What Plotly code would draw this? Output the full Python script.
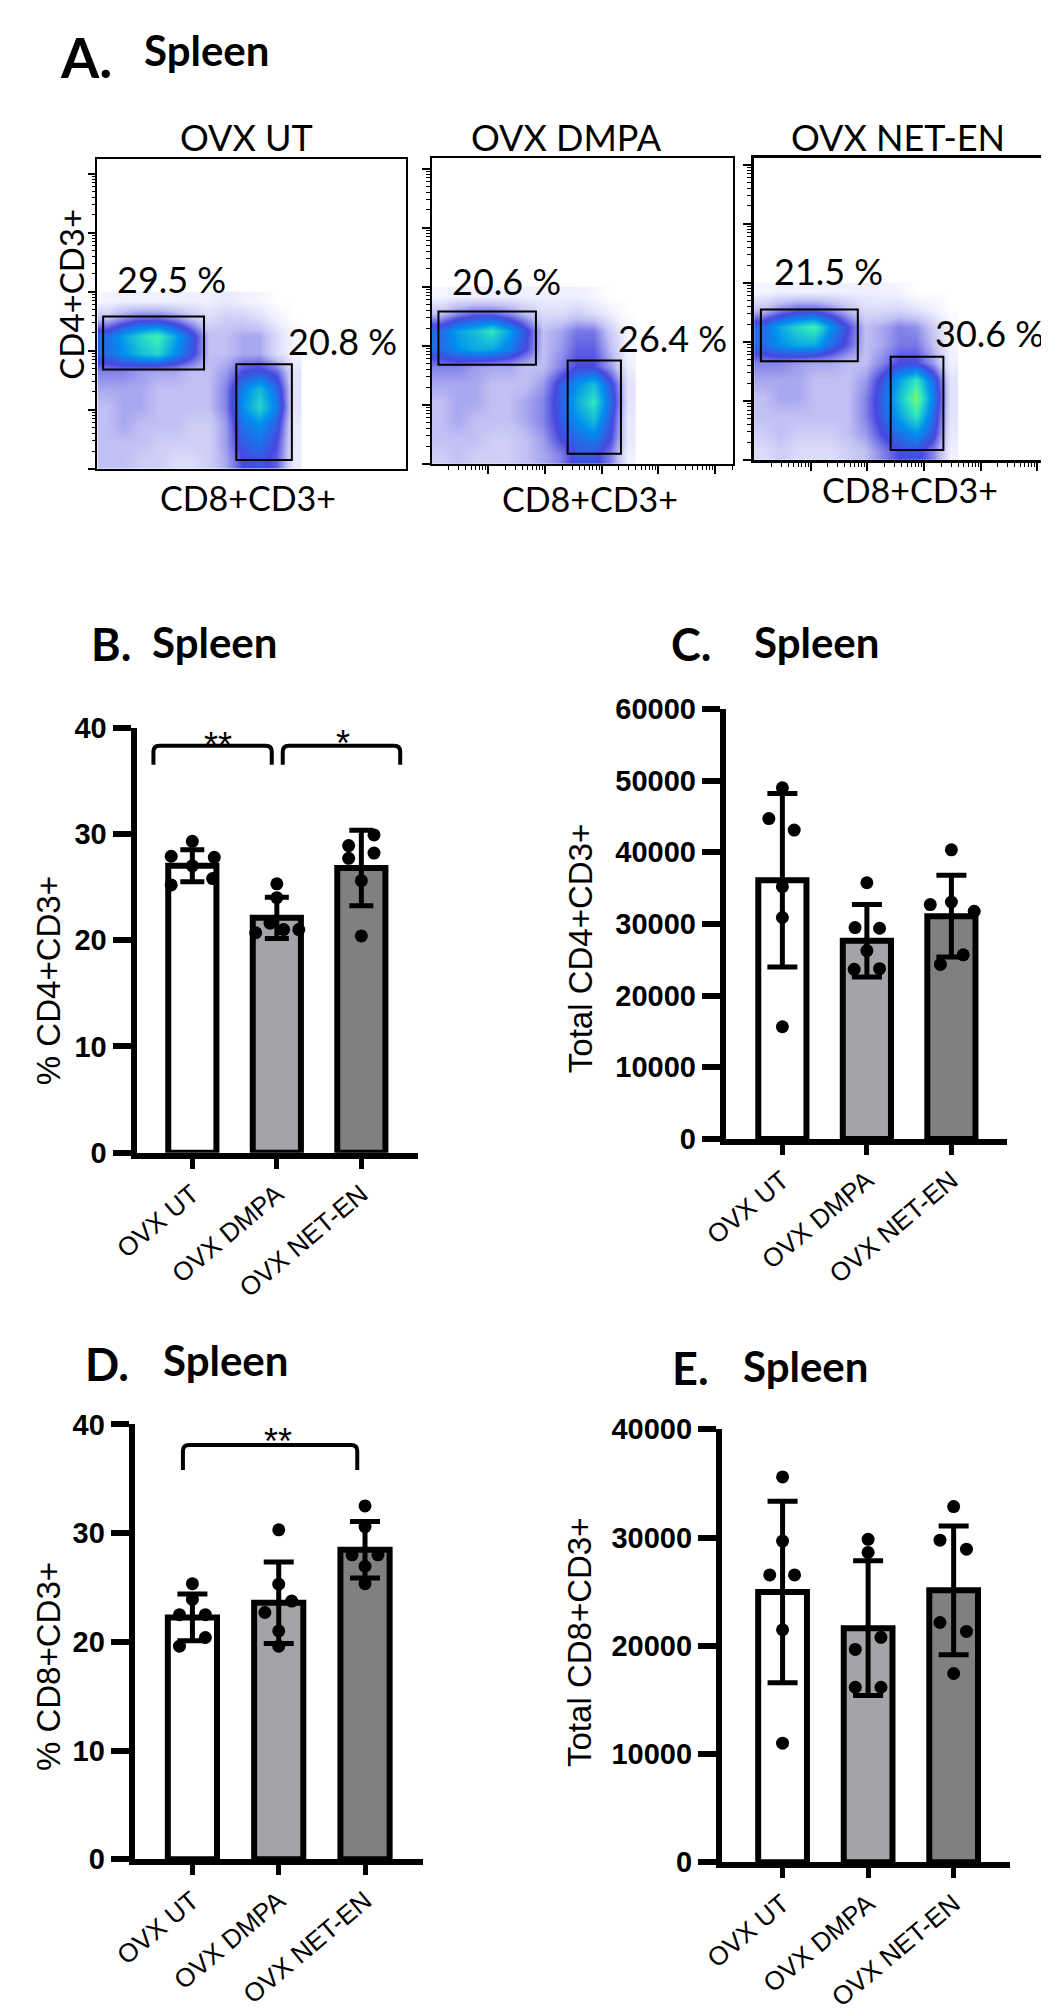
import numpy as np
import plotly.graph_objects as go

W, H = 1049, 2011

groups = ["OVX UT", "OVX DMPA", "OVX NET-EN"]
bar_fill = ["#ffffff", "#a3a3a8", "#808080"]

# B. % CD4+CD3+ (mean, SD, single mice, horizontal jitter of dots)
b_mean = [27.0, 22.1, 26.8]
b_sd = [1.5, 1.95, 3.55]
b_pts = [[27.9, 29.3, 27.8, 27.0, 25.2, 25.8],
         [25.3, 24.0, 21.6, 20.7, 21.0, 21.0],
         [29.9, 28.9, 28.2, 27.7, 25.6, 20.4]]
b_jit = [[-0.25, 0, 0.26, 0, -0.25, 0.24],
         [0, 0, -0.08, -0.25, 0.08, 0.26],
         [0.15, -0.15, 0.15, -0.15, 0, 0]]

# C. Total CD4+CD3+
c_mean = [36100, 27650, 31090]
c_sd = [12100, 5050, 5700]
c_pts = [[49000, 44700, 43100, 35200, 30900, 15660],
         [35750, 29500, 29400, 26280, 23670, 23760],
         [40340, 32700, 33060, 31770, 25690, 24350]]
c_jit = [[0, -0.16, 0.14, 0, 0, 0],
         [0, -0.14, 0.15, 0, -0.15, 0.15],
         [0, -0.25, 0, 0.27, 0.14, -0.13]]

# D. % CD8+CD3+
d_mean = [22.24, 23.6, 28.46]
d_sd = [2.15, 3.75, 2.6]
d_pts = [[25.35, 22.5, 22.5, 23.9, 20.4, 19.6],
         [30.3, 25.3, 23.75, 22.7, 21.0, 19.6],
         [32.5, 30.6, 28.0, 28.0, 26.95, 25.35]]
d_jit = [[0, -0.15, 0.15, 0, 0.15, -0.15],
         [0, 0, 0.15, -0.16, 0, 0],
         [0, 0, -0.15, 0.15, 0, 0]]

# E. Total CD8+CD3+
e_mean = [24970, 21630, 25120]
e_sd = [8380, 6220, 5950]
e_pts = [[35600, 29670, 26550, 26550, 21480, 11000],
         [29830, 28620, 20780, 19660, 16170, 16170],
         [32860, 29760, 28920, 22150, 21330, 17440]]
e_jit = [[0, 0, -0.15, 0.14, 0, 0],
         [0, 0, 0.15, -0.15, -0.15, 0.15],
         [0, -0.16, 0.15, -0.16, 0.15, 0]]

# significance brackets: (x from, x to, leg bottom, top, label, label x, label lift)
b_sig = [(-0.46, 0.94, 36.5, 38.3, "**", 0.30, 0.0),
         (1.07, 2.46, 36.5, 38.3, "*", 1.78, 0.2)]
d_sig = [(-0.11, 1.91, 35.8, 38.1, "**", 0.99, 0.36)]

# A. flow density, 0.3-decade bins, rows bottom -> top, CD8 along x, CD4 along y
ut_density = [
    [1.0, 1.0, 0.8, 0.8, 0.6, 0.6, 0.8, 1.2, 2.0, 2.2, 1.8, 0.4],
    [1.0, 1.0, 1.0, 0.8, 0.8, 0.8, 0.8, 1.3, 2.3, 2.6, 2.0, 0.4],
    [1.0, 1.2, 1.0, 1.0, 1.0, 0.8, 0.8, 1.3, 2.6, 3.0, 2.3, 0.4],
    [1.0, 1.2, 1.2, 1.0, 1.0, 1.0, 1.0, 1.5, 3.0, 3.8, 2.8, 0.5],
    [1.2, 1.2, 1.2, 1.0, 1.0, 1.0, 1.0, 1.5, 2.8, 3.5, 2.5, 0.5],
    [1.5, 1.5, 1.3, 1.2, 1.2, 1.0, 1.0, 1.3, 2.0, 2.2, 1.8, 0.5],
    [2.5, 3.0, 3.5, 3.8, 3.0, 2.2, 1.0, 1.0, 1.2, 1.2, 0.6, 0.2],
    [2.5, 3.2, 3.8, 4.2, 3.3, 2.3, 1.0, 1.0, 1.2, 1.2, 0.6, 0.2],
    [1.0, 1.5, 1.8, 1.8, 1.5, 1.0, 0.6, 0.8, 0.8, 0.6, 0.3, 0.0],
    [0.2, 0.3, 0.3, 0.3, 0.3, 0.3, 0.3, 0.4, 0.3, 0.2, 0.0, 0.0],
]
dmpa_density = [
    [0.8, 1.0, 0.8, 0.8, 0.8, 1.0, 1.2, 1.5, 2.2, 2.2, 1.5, 0.3],
    [1.0, 1.0, 1.0, 0.8, 0.8, 1.0, 1.3, 2.0, 2.5, 2.8, 2.0, 0.4],
    [1.0, 1.2, 1.0, 1.0, 1.0, 1.2, 1.5, 2.2, 3.0, 3.5, 2.2, 0.4],
    [1.0, 1.2, 1.2, 1.0, 1.0, 1.2, 1.5, 2.3, 3.3, 4.0, 2.5, 0.5],
    [1.2, 1.2, 1.2, 1.0, 1.0, 1.0, 1.3, 2.2, 3.0, 3.5, 2.2, 0.5],
    [1.5, 1.5, 1.3, 1.2, 1.2, 1.0, 1.0, 1.5, 2.0, 2.0, 1.3, 0.3],
    [2.5, 3.0, 3.3, 3.3, 2.8, 2.0, 1.0, 1.3, 1.8, 1.8, 1.0, 0.2],
    [2.5, 3.2, 3.5, 4.0, 3.2, 2.2, 1.0, 1.2, 1.6, 1.6, 0.8, 0.2],
    [1.0, 1.5, 1.8, 1.8, 1.5, 1.0, 0.6, 0.6, 0.8, 0.6, 0.3, 0.0],
    [0.2, 0.3, 0.3, 0.3, 0.3, 0.3, 0.3, 0.3, 0.3, 0.2, 0.0, 0.0],
]
neten_density = [
    [0.6, 0.8, 0.6, 0.6, 0.6, 0.8, 1.0, 1.5, 2.0, 2.2, 1.5, 0.3],
    [0.8, 1.0, 0.8, 0.8, 0.8, 1.0, 1.3, 2.0, 2.6, 3.0, 2.2, 0.4],
    [1.0, 1.0, 1.0, 1.0, 1.0, 1.0, 1.5, 2.3, 3.2, 4.0, 2.5, 0.5],
    [1.0, 1.2, 1.2, 1.0, 1.0, 1.0, 1.5, 2.4, 3.5, 4.6, 2.8, 0.5],
    [1.2, 1.2, 1.2, 1.0, 1.0, 1.0, 1.3, 2.2, 3.2, 4.0, 2.5, 0.5],
    [1.5, 1.5, 1.3, 1.2, 1.2, 1.0, 1.0, 1.5, 2.0, 2.0, 1.3, 0.3],
    [2.5, 3.0, 3.3, 3.3, 2.5, 1.8, 1.0, 1.2, 1.6, 1.6, 1.0, 0.2],
    [2.5, 3.3, 3.8, 4.2, 3.0, 2.0, 1.0, 1.2, 1.5, 1.4, 0.8, 0.2],
    [1.0, 1.5, 1.8, 1.8, 1.5, 1.0, 0.6, 0.6, 0.7, 0.5, 0.3, 0.0],
    [0.2, 0.3, 0.3, 0.3, 0.3, 0.3, 0.3, 0.3, 0.2, 0.0, 0.0, 0.0],
]
bin_size = 0.3
cd4_gates = [[0.10, 1.88, 1.68, 2.58], [0.12, 1.84, 1.68, 2.58], [0.12, 1.83, 1.67, 2.55]]
cd8_gates = [[2.45, 3.43, 0.15, 1.77], [2.40, 3.34, 0.17, 1.75], [2.41, 3.34, 0.17, 1.75]]
pct_cd4 = ["29.5 %", "20.6 %", "21.5 %"]
pct_cd8 = ["20.8 %", "26.4 %", "30.6 %"]


def xd(a, b):
    return [a / W, b / W]


def yd(top, bottom):
    return [1 - bottom / H, 1 - top / H]


def px(x, y):
    return x / W, 1 - y / H


fig = go.Figure()
layout = {}
annotations = []
shapes = []

ARIAL = "Liberation Sans"
CAL = "Lato"

# ---------------- bar panels ----------------
bar_panels = [
    dict(n=1, mean=b_mean, sd=b_sd, pts=b_pts, jit=b_jit, xdom=(107, 395), ydom=(715, 1147),
         xr=(-0.66, 2.67), yr=(0, 40), dtick=10, cap=12, sig=b_sig),
    dict(n=2, mean=c_mean, sd=c_sd, pts=c_pts, jit=c_jit, xdom=(710, 998), ydom=(696, 1133),
         xr=(-0.67, 2.66), yr=(0, 60000), dtick=10000, cap=15, sig=[]),
    dict(n=3, mean=d_mean, sd=d_sd, pts=d_pts, jit=d_jit, xdom=(105, 400), ydom=(1423, 1865),
         xr=(-0.67, 2.67), yr=(0, 40), dtick=10, cap=15, sig=d_sig),
    dict(n=4, mean=e_mean, sd=e_sd, pts=e_pts, jit=e_jit, xdom=(706, 1001), ydom=(1428, 1868),
         xr=(-0.71, 2.66), yr=(0, 40000), dtick=10000, cap=15, sig=[]),
]

for p in bar_panels:
    n = p["n"]
    xa = "x" if n == 1 else f"x{n}"
    ya = "y" if n == 1 else f"y{n}"
    fig.add_trace(go.Bar(
        x=[0, 1, 2], y=p["mean"], width=0.57, xaxis=xa, yaxis=ya,
        marker=dict(color=bar_fill, line=dict(color="black", width=6)),
        error_y=dict(type="data", array=p["sd"], visible=True, color="black",
                     thickness=5, width=p["cap"]),
        showlegend=False))
    xs, ys = [], []
    for i in range(3):
        xs += [i + j for j in p["jit"][i]]
        ys += p["pts"][i]
    fig.add_trace(go.Scatter(
        x=xs, y=ys, mode="markers", xaxis=xa, yaxis=ya, cliponaxis=False,
        marker=dict(color="black", size=13), showlegend=False))
    layout["xaxis" if n == 1 else f"xaxis{n}"] = dict(
        domain=xd(*p["xdom"]), range=list(p["xr"]), anchor=ya,
        showline=True, linewidth=6, linecolor="black", showgrid=False, zeroline=False,
        ticks="outside", ticklen=10, tickwidth=5, tickcolor="black",
        tickvals=[0, 1, 2], ticktext=groups, tickangle=-40,
        tickfont=dict(family=ARIAL, size=26, color="black"))
    layout["yaxis" if n == 1 else f"yaxis{n}"] = dict(
        domain=yd(*p["ydom"]), range=list(p["yr"]), anchor=xa, dtick=p["dtick"],
        tickformat="d",
        showline=True, linewidth=6, linecolor="black", showgrid=False, zeroline=False,
        ticks="outside", ticklen=18, tickwidth=6, tickcolor="black",
        tickfont=dict(family=ARIAL, size=29, color="black", weight="bold"))
    yspan = p["yr"][1] - p["yr"][0]
    rx, ry = 0.07, yspan * 6 / (p["ydom"][1] - p["ydom"][0])
    for x0, x1, y0, y1, lab, lx, lift in p["sig"]:
        path = (f"M {x0},{y0} L {x0},{y1 - ry} Q {x0},{y1} {x0 + rx},{y1} "
                f"L {x1 - rx},{y1} Q {x1},{y1} {x1},{y1 - ry} L {x1},{y0}")
        shapes.append(dict(type="path", xref=xa, yref=ya, path=path,
                           line=dict(color="black", width=4)))
        annotations.append(dict(x=lx, y=y1 + lift, xref=xa, yref=ya,
                                text=lab, showarrow=False, yanchor="middle",
                                font=dict(family=ARIAL, size=36, color="black")))

# ---------------- flow panels ----------------
flow_boxes = [(67, 383, 137, 452), (409, 717, 136, 447), (739, 1046, 136, 443)]
flow_frame_w = [1.5, 1.5, 2.5]
densities = [ut_density, dmpa_density, neten_density]
px_per_dec_x, px_per_dec_y = 58, 60

minor_vals = [k + np.log10(m) for k in range(6) for m in range(2, 10)]
jet = [[0.0, "#ffffff"], [0.06, "#f0f0ff"], [0.2, "#c0c0f4"], [0.4, "#4848e0"],
       [0.6, "#0090f0"], [0.8, "#30e8c0"], [1.0, "#b0ff30"]]

for k in range(3):
    n = 5 + k
    xa, ya = f"x{n}", f"y{n}"
    x0, x1, y0, y1 = flow_boxes[k]
    xr = (x1 - x0) / px_per_dec_x
    yr = (y1 - y0) / px_per_dec_y
    z = densities[k]
    xc = [bin_size * (j + 0.5) for j in range(len(z[0]))]
    yc = [bin_size * (i + 0.5) for i in range(len(z))]
    fig.add_trace(go.Heatmap(
        x=xc, y=yc, z=z, xaxis=xa, yaxis=ya, zmin=0, zmax=5, zsmooth="best",
        colorscale=jet, showscale=False, hoverinfo="skip"))
    x_ticks = k > 0
    layout[f"xaxis{n}"] = dict(
        domain=xd(x0, x1), range=[0, xr], anchor=ya, showline=True, mirror=True,
        linewidth=flow_frame_w[k], linecolor="black", showgrid=False, zeroline=False,
        showticklabels=False, ticks="outside" if x_ticks else "",
        tickvals=[1, 2, 3, 4, 5], ticklen=8, tickwidth=1.5, tickcolor="black",
        minor=dict(tickvals=[v for v in minor_vals if v < xr], ticklen=4,
                   tickwidth=1, tickcolor="black", ticks="outside" if x_ticks else ""))
    layout[f"yaxis{n}"] = dict(
        domain=yd(y0, y1), range=[0, yr], anchor=xa, showline=True, mirror=True,
        linewidth=flow_frame_w[k], linecolor="black", showgrid=False, zeroline=False,
        showticklabels=False, ticks="outside", tickvals=[0, 1, 2, 3, 4, 5],
        ticklen=8, tickwidth=2, tickcolor="black",
        minor=dict(tickvals=[v for v in minor_vals if v < yr], ticklen=4,
                   tickwidth=1, tickcolor="black", ticks="outside"))
    for g in (cd4_gates[k], cd8_gates[k]):
        shapes.append(dict(type="rect", xref=xa, yref=ya, x0=g[0], x1=g[1], y0=g[2], y1=g[3],
                           line=dict(color="black", width=2)))

# flow text
flow_title_pos = [(220, 115), (547, 115), (886, 115)]
flow_xlab_pos = [(221, 481), (571, 482), (899, 473)]
pct4_pos = [(143, 259), (486, 261), (815, 251)]
pct8_pos = [(318, 322), (655, 319), (980, 314)]
for k in range(3):
    for (tx, ty), txt, sz in ((flow_title_pos[k], groups[k], 36),
                              (flow_xlab_pos[k], "CD8+CD3+", 34),
                              (pct4_pos[k], pct_cd4[k], 36),
                              (pct8_pos[k], pct_cd8[k], 36)):
        x, y = px(tx, ty)
        annotations.append(dict(x=x, y=y, xref="paper", yref="paper", text=txt,
                                showarrow=False, xanchor="center", yanchor="middle",
                                font=dict(family=CAL, size=sz, color="black")))
x, y = px(40, 275)
annotations.append(dict(x=x, y=y, xref="paper", yref="paper", text="CD4+CD3+", textangle=-90,
                        showarrow=False, xanchor="center", yanchor="middle",
                        font=dict(family=CAL, size=33, color="black")))

# panel letters and titles
panel_titles = [("A.", 27, 34, 55, 113, 26), ("B.", 58, 630, 45, 121, 628),
                ("C.", 652, 630, 45, 737, 628), ("D.", 52, 1362, 45, 132, 1358),
                ("E.", 653, 1366, 45, 726, 1364)]
for lab, lx, ly, lsz, sx, sy in panel_titles:
    x, y = px(lx, ly)
    annotations.append(dict(x=x, y=y, xref="paper", yref="paper", text=f"<b>{lab}</b>",
                            showarrow=False, xanchor="left", yanchor="middle",
                            font=dict(family=CAL, size=lsz, color="black")))
    x, y = px(sx, sy)
    annotations.append(dict(x=x, y=y, xref="paper", yref="paper", text="<b>Spleen</b>",
                            showarrow=False, xanchor="left", yanchor="middle",
                            font=dict(family=CAL, size=42, color="black")))

# bar y titles
ytitles = [("% CD4+CD3+", 17, 972), ("Total CD4+CD3+", 561, 940),
           ("% CD8+CD3+", 17, 1669), ("Total CD8+CD3+", 561, 1645)]
for txt, tx, ty in ytitles:
    x, y = px(tx, ty)
    annotations.append(dict(x=x, y=y, xref="paper", yref="paper", text=txt, textangle=-90,
                            showarrow=False, xanchor="center", yanchor="middle",
                            font=dict(family=ARIAL, size=33, color="black")))

fig.update_layout(
    width=W, height=H, margin=dict(l=0, r=0, t=0, b=0),
    paper_bgcolor="white", plot_bgcolor="white",
    annotations=annotations, shapes=shapes, **layout)

fig.write_html("out.html")
